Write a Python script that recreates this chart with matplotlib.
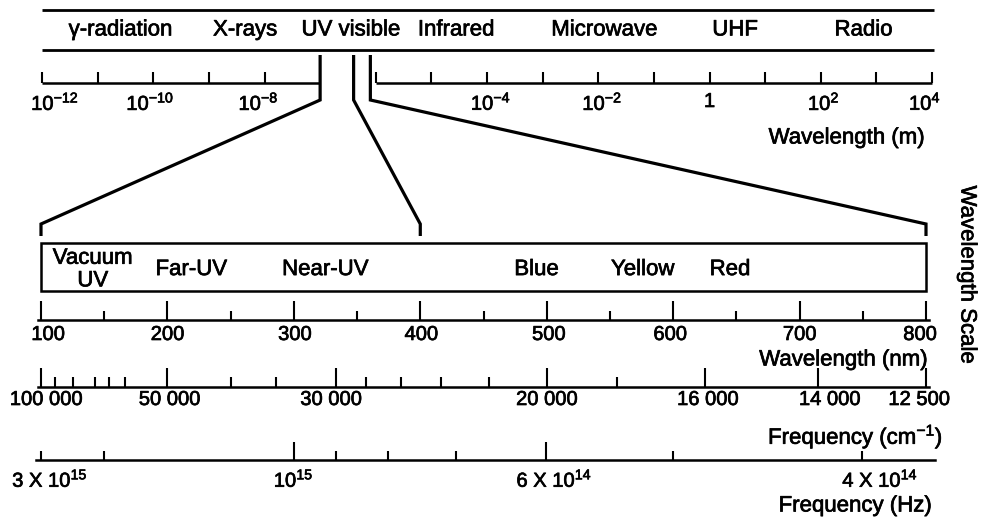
import numpy as np
import matplotlib
matplotlib.use("Agg")
import matplotlib.pyplot as plt
import matplotlib.patheffects as pe
from matplotlib.transforms import blended_transform_factory
from matplotlib.patches import Rectangle

# ---------------- data ----------------
band_names = ["γ-radiation", "X-rays", "UV visible", "Infrared", "Microwave", "UHF", "Radio"]
band_centers_m = [2.6e-11, 4.5e-9, 3.6e-7, 2.8e-5, 1.3e-2, 2.9, 590.0]
band_extent_m = [1e-12, 1.1e4]

wl_m_ticks = [1e-12, 1e-11, 1e-10, 1e-9, 1e-8, 1e-6, 1e-5, 1e-4, 1e-3,
              1e-2, 1e-1, 1e0, 1e1, 1e2, 1e3, 1e4]
wl_m_label_vals = [1e-12, 1e-10, 1e-8, 1e-4, 1e-2, 1e0, 1e2, 1e4]
wl_m_label_text = [r"$10^{-12}$", r"$10^{-10}$", r"$10^{-8}$", r"$10^{-4}$",
                   r"$10^{-2}$", "1", r"$10^{2}$", r"$10^{4}$"]
wl_m_segments = [(1e-12, 9.5e-8), (1e-6, 1e4)]

zoom_nm = [100, 400, 800]

region_names = ["Vacuum\nUV", "Far-UV", "Near-UV", "Blue", "Yellow", "Red"]
region_nm = [141, 219, 325, 492, 576, 645]
box_nm = (100, 800)

nm_major = [100, 200, 300, 400, 500, 600, 700, 800]
nm_minor = [150, 250, 350, 450, 550, 650, 750]

wn_major = [100000, 50000, 30000, 20000, 16000, 14000, 12500]
wn_major_labels = ["100 000", "50 000", "30 000", "20 000", "16 000", "14 000", "12 500"]
wn_minor = [90000, 80000, 70000, 65000, 60000, 40000, 35000,
            28000, 26000, 24000, 22000, 18000]

hz_major = [1e15, 6e14]
hz_minor = [3e15, 2e15, 9e14, 8e14, 7e14, 5e14, 4e14]
hz_label_vals = [3e15, 1e15, 6e14, 4e14]
hz_label_text = [r"3 X $10^{15}$", r"$10^{15}$", r"6 X $10^{14}$", r"4 X $10^{14}$"]

# ---------------- style ----------------
plt.rcParams["font.family"] = ["Liberation Sans", "DejaVu Sans"]
plt.rcParams["mathtext.fontset"] = "custom"
plt.rcParams["mathtext.rm"] = "Liberation Sans"
plt.rcParams["mathtext.it"] = "Liberation Sans:italic"
plt.rcParams["mathtext.bf"] = "Liberation Sans:bold"
plt.rcParams["mathtext.default"] = "regular"

WORD_FS = 16
NUM_FS = 14.5
LW_AX = 1.8
TW = 1.5

# label horizontal nudges (pixels), layout only
top_dx = [13, -3, -6, 4, 4, 0, 3, -7]
nm_dx = [7, 0, 1, 1, 2, -3, 0, -6]
wn_dx = [5, 2, -5, 0, 3, 12, -7]
hz_dx = [9, 0, 8, 18]

W, H = 982, 519
fig = plt.figure(figsize=(W / 100, H / 100), dpi=100)
fig.patch.set_facecolor("white")


def px_axes(x0, y_top, x1, y_bot):
    ax = fig.add_axes([x0 / W, 1 - y_bot / H, (x1 - x0) / W, (y_bot - y_top) / H])
    ax.patch.set_alpha(0)
    for s in ax.spines.values():
        s.set_visible(False)
    ax.set_yticks([])
    ax.set_ylim(0, 1)
    return ax


def put_labels(ax, vals, texts, dxs, gap):
    tr = blended_transform_factory(ax.transData, ax.transAxes)
    for v, t, dx in zip(vals, texts, dxs):
        ax.annotate(t, xy=(v, 0), xycoords=tr, xytext=(dx, -gap),
                    textcoords="offset pixels", ha="center", va="top",
                    fontsize=NUM_FS, annotation_clip=False)


# mapping of nm-axis in pixels (100 nm -> 41 px, 800 nm -> 926 px)
PX100, PX800 = 41.0, 926.0
scale = (PX800 - PX100) / 700.0


def px_to_nm(px):
    return 100.0 + (px - PX100) / scale


# ---------------- top: wavelength (m), log scale ----------------
ax_top = px_axes(42, 5, 932, 83)
ax_top.set_xscale("log")
ax_top.set_xlim(1e-12, 1e4)
ax_top.xaxis.set_minor_locator(matplotlib.ticker.NullLocator())
ax_top.set_xticks(wl_m_ticks)
ax_top.xaxis.set_major_formatter(matplotlib.ticker.NullFormatter())
ax_top.tick_params(axis="x", direction="in", length=7.9, width=TW, color="black")
for a, b in wl_m_segments:
    ax_top.plot([a, b], [0, 0], color="black", lw=LW_AX, clip_on=False,
                solid_capstyle="butt")
put_labels(ax_top, wl_m_label_vals, wl_m_label_text, top_dx, 9)
for yb in (0.936, 0.423):
    ax_top.plot(band_extent_m, [yb, yb], color="black", lw=2.0, clip_on=False,
                solid_capstyle="butt")
for name, c in zip(band_names, band_centers_m):
    ax_top.text(c, 0.68, name, ha="center", va="center", fontsize=WORD_FS)

# ---------------- wavelength (nm) ----------------
L, R = 38, 929
ax_nm = px_axes(L, 243, R, 320)
ax_nm.set_xlim(px_to_nm(L), px_to_nm(R))
ax_nm.spines["bottom"].set_visible(True)
ax_nm.spines["bottom"].set_linewidth(LW_AX)
ax_nm.set_xticks(nm_major)
ax_nm.set_xticks(nm_minor, minor=True)
ax_nm.xaxis.set_major_formatter(matplotlib.ticker.NullFormatter())
ax_nm.tick_params(axis="x", which="major", direction="in", length=13.7, width=TW)
ax_nm.tick_params(axis="x", which="minor", direction="in", length=6.5, width=TW)
put_labels(ax_nm, nm_major, [str(v) for v in nm_major], nm_dx, 5)
trans_nm = blended_transform_factory(ax_nm.transData, ax_nm.transAxes)
ax_nm.add_patch(Rectangle((box_nm[0], 0.377), box_nm[1] - box_nm[0], 0.623,
                          transform=trans_nm, fill=False, lw=1.8, ec="black",
                          clip_on=False))
for name, v in zip(region_names, region_nm):
    ax_nm.text(v, 0.655, name, transform=trans_nm, ha="center", va="center",
               fontsize=WORD_FS, linespacing=1.1, multialignment="center")

# ---------------- wavenumber (cm^-1) ----------------
def inv_wn(x):
    x = np.asarray(x, dtype=float)
    with np.errstate(divide="ignore", invalid="ignore"):
        return 1e7 / x


ax_wn = px_axes(L, 360, R, 387)
ax_wn.set_xscale("function", functions=(inv_wn, inv_wn))
ax_wn.set_xticks(wn_major)
ax_wn.set_xticks(wn_minor, minor=True)
ax_wn.set_xlim(1e7 / px_to_nm(R), 1e7 / px_to_nm(L))
ax_wn.xaxis.set_major_formatter(matplotlib.ticker.NullFormatter())
ax_wn.xaxis.set_minor_formatter(matplotlib.ticker.NullFormatter())
ax_wn.spines["bottom"].set_visible(True)
ax_wn.spines["bottom"].set_linewidth(LW_AX)
ax_wn.tick_params(axis="x", which="major", direction="in", length=13.7, width=TW)
ax_wn.tick_params(axis="x", which="minor", direction="in", length=7.0, width=TW)
put_labels(ax_wn, wn_major, wn_major_labels, wn_dx, 3)

# ---------------- frequency (Hz) ----------------
C_NM = 2.998e17


def inv_hz(x):
    x = np.asarray(x, dtype=float)
    with np.errstate(divide="ignore", invalid="ignore"):
        return C_NM / x


LH, RH = 36, 935
ax_hz = px_axes(LH, 420, RH, 460)
ax_hz.set_xscale("function", functions=(inv_hz, inv_hz))
ax_hz.set_xticks(hz_major)
ax_hz.set_xticks(hz_minor, minor=True)
ax_hz.set_xlim(C_NM / px_to_nm(RH), C_NM / px_to_nm(LH))
ax_hz.xaxis.set_major_formatter(matplotlib.ticker.NullFormatter())
ax_hz.xaxis.set_minor_formatter(matplotlib.ticker.NullFormatter())
ax_hz.spines["bottom"].set_visible(True)
ax_hz.spines["bottom"].set_linewidth(LW_AX)
ax_hz.tick_params(axis="x", which="major", direction="in", length=13.0, width=TW)
ax_hz.tick_params(axis="x", which="minor", direction="in", length=6.5, width=TW)
put_labels(ax_hz, hz_label_vals, hz_label_text, hz_dx, 9)

# ---------------- axis titles ----------------
def ftext(x, y, s, **kw):
    fig.text(x / W, 1 - y / H, s, fontsize=WORD_FS, **kw)


ftext(925, 138, "Wavelength (m)", ha="right", va="center")
ftext(928, 360, "Wavelength (nm)", ha="right", va="center")
ftext(943, 437, r"Frequency (cm$^{-1}$)", ha="right", va="center")
ftext(932, 506, "Frequency (Hz)", ha="right", va="center")
ftext(967, 275, "Wavelength Scale", ha="center", va="center", rotation=-90)

# ---------------- zoom connectors ----------------
ax_ov = fig.add_axes([0, 0, 1, 1])
ax_ov.set_xlim(0, W)
ax_ov.set_ylim(H, 0)
ax_ov.axis("off")
for lam in zoom_nm:
    xt = ax_top.transData.transform((lam * 1e-9, 0.5))[0]
    xb = ax_nm.transData.transform((lam, 0.5))[0]
    ax_ov.plot([xt, xt, xb, xb], [55, 100, 224, 236], color="black", lw=2.3,
               solid_joinstyle="miter", solid_capstyle="butt")

# slightly heavier text strokes, like the reference
for t in fig.findobj(matplotlib.text.Text):
    if t.get_text():
        t.set_path_effects([pe.withStroke(linewidth=0.5, foreground="black")])

fig.savefig("out.png", dpi=100, facecolor="white")
